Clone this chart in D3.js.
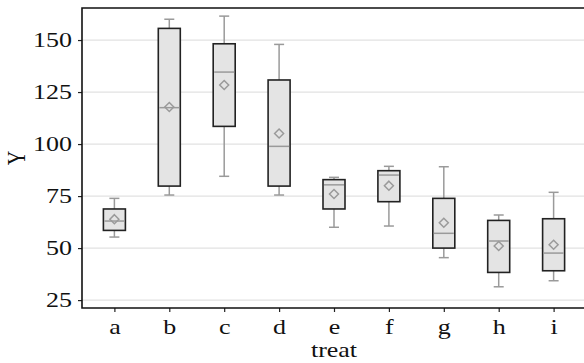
<!DOCTYPE html>
<html>
<head>
<meta charset="utf-8">
<script src="https://cdn.jsdelivr.net/npm/d3@7"></script>
<style>
  body { margin: 0; background: #fff; }
  svg text { font-family: "Liberation Serif", "DejaVu Serif", serif; fill: #111; }
</style>
</head>
<body>
<div id="chart"></div>
<script>
const treats = ["a", "b", "c", "d", "e", "f", "g", "h", "i"];
const whiskerLow = [55.3, 75.5, 84.5, 75.5, 60.0, 60.6, 45.4, 31.4, 34.3];
const q1 = [58.5, 79.8, 108.5, 79.8, 68.8, 72.3, 50.0, 38.3, 39.1];
const medians = [63.0, 117.5, 134.6, 98.9, 80.4, 85.1, 57.1, 53.4, 47.6];
const q3 = [68.8, 155.6, 148.2, 130.8, 82.9, 87.2, 73.9, 63.3, 64.1];
const whiskerHigh = [73.9, 160.0, 161.5, 147.9, 84.0, 89.3, 89.1, 65.9, 76.8];
const means = [63.9, 117.8, 128.4, 105.1, 76.0, 80.0, 62.2, 51.0, 51.6];
const yTicks = [25, 50, 75, 100, 125, 150];

const width = 584, height = 363;
const margin = { top: 8, right: -2, bottom: 55, left: 82 };
const fontSize = "20px";
const stretch = 1.3; // the reference text is drawn wider than tall

const svg = d3.select("#chart").append("svg")
  .attr("width", width)
  .attr("height", height);

const x = d3.scalePoint()
  .domain(treats)
  .range([margin.left, width - margin.right])
  .padding(0.59);

const y = d3.scaleLinear()
  .domain([21.2, 165.4])
  .range([height - margin.bottom, margin.top]);

const data = treats.map((t, i) => ({
  treat: t, lo: whiskerLow[i], q1: q1[i], med: medians[i],
  q3: q3[i], hi: whiskerHigh[i], mean: means[i]
}));

// grid
svg.selectAll("line.grid")
  .data(yTicks)
  .enter().append("line")
  .attr("class", "grid")
  .attr("x1", margin.left)
  .attr("x2", width)
  .attr("y1", d => y(d))
  .attr("y2", d => y(d))
  .style("stroke", "#e2e2e2")
  .style("stroke-width", 1.2);

const boxW = 22, capW = 10;
const g = svg.selectAll("g.box")
  .data(data)
  .enter().append("g")
  .attr("class", "box")
  .attr("transform", d => `translate(${x(d.treat)},0)`);

// whiskers
g.append("line")
  .attr("x1", 0).attr("x2", 0)
  .attr("y1", d => y(d.hi)).attr("y2", d => y(d.q3))
  .style("stroke", "#9a9a9a").style("stroke-width", 1.5);
g.append("line")
  .attr("x1", 0).attr("x2", 0)
  .attr("y1", d => y(d.q1)).attr("y2", d => y(d.lo))
  .style("stroke", "#9a9a9a").style("stroke-width", 1.5);
g.append("line")
  .attr("x1", -capW / 2).attr("x2", capW / 2)
  .attr("y1", d => y(d.hi)).attr("y2", d => y(d.hi))
  .style("stroke", "#9a9a9a").style("stroke-width", 1.5);
g.append("line")
  .attr("x1", -capW / 2).attr("x2", capW / 2)
  .attr("y1", d => y(d.lo)).attr("y2", d => y(d.lo))
  .style("stroke", "#9a9a9a").style("stroke-width", 1.5);

// box
g.append("rect")
  .attr("x", -boxW / 2)
  .attr("width", boxW)
  .attr("y", d => y(d.q3))
  .attr("height", d => y(d.q1) - y(d.q3))
  .style("fill", "#e4e4e4")
  .style("stroke", "#222")
  .style("stroke-width", 1.6);

// median
g.append("line")
  .attr("x1", -boxW / 2 + 1).attr("x2", boxW / 2 - 1)
  .attr("y1", d => y(d.med)).attr("y2", d => y(d.med))
  .style("stroke", "#9a9a9a").style("stroke-width", 1.5);

// mean diamond
g.append("path")
  .attr("d", d => {
    const cy = y(d.mean), r = 4.5;
    return `M0,${cy - r}L${r},${cy}L0,${cy + r}L${-r},${cy}Z`;
  })
  .style("fill", "none")
  .style("stroke", "#9a9a9a")
  .style("stroke-width", 1.5);

// axes
const yAxis = svg.append("g")
  .attr("transform", `translate(${margin.left},0)`)
  .call(d3.axisLeft(y).tickValues(yTicks).tickSize(4));
yAxis.select(".domain").remove();
yAxis.selectAll(".tick line").style("stroke", "#222").style("stroke-width", 1.2);
yAxis.selectAll(".tick text")
  .attr("x", 0)
  .attr("dy", "0.34em")
  .attr("transform", `translate(-10,0) scale(${stretch},1)`)
  .style("font-size", fontSize)
  .style("font-family", "Liberation Serif")
  .style("fill", "#111");

const xAxis = svg.append("g")
  .attr("transform", `translate(0,${height - margin.bottom})`)
  .call(d3.axisBottom(x).tickSize(4));
xAxis.select(".domain").remove();
xAxis.selectAll(".tick line").style("stroke", "#222").style("stroke-width", 1.2);
xAxis.selectAll(".tick text")
  .attr("y", 0)
  .attr("dy", 0)
  .attr("transform", `translate(0,26) scale(${stretch},1)`)
  .style("font-size", fontSize)
  .style("font-family", "Liberation Serif")
  .style("fill", "#111");

// frame
svg.append("path")
  .attr("d", `M${width + 5},${margin.top}H${margin.left}V${height - margin.bottom}H${width + 5}`)
  .style("fill", "none")
  .style("stroke", "#111")
  .style("stroke-width", 1.6);

// axis titles
svg.append("text")
  .attr("transform", `translate(25,${(margin.top + height - margin.bottom) / 2}) rotate(-90) scale(1,${stretch})`)
  .attr("text-anchor", "middle")
  .style("font-size", fontSize)
  .text("Y");

svg.append("text")
  .attr("transform", `translate(${(margin.left + width - margin.right) / 2},357) scale(${stretch},1)`)
  .attr("text-anchor", "middle")
  .style("font-size", fontSize)
  .text("treat");
</script>
</body>
</html>
